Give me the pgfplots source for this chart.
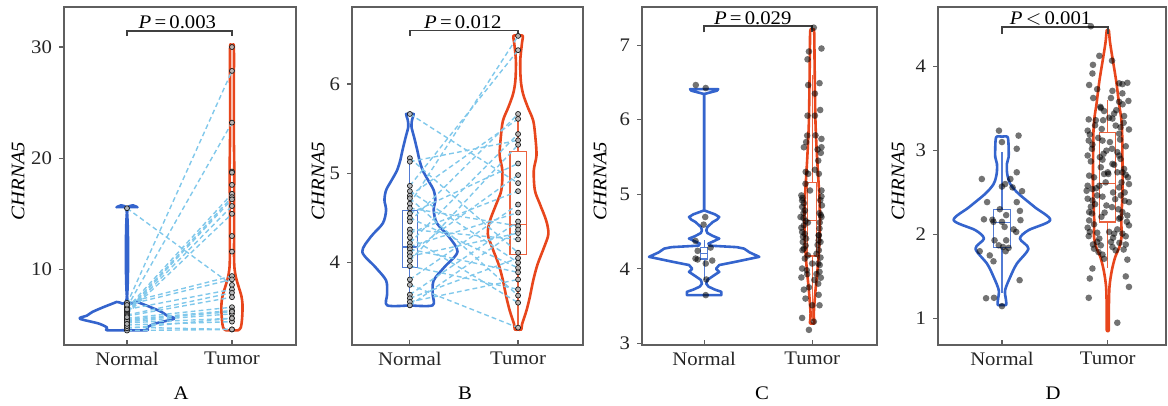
\documentclass[border=0pt]{standalone}
\usepackage{fontspec}
\setmainfont[FakeStretch=1.08]{Liberation Serif}
\usepackage{pgfplots}
\pgfplotsset{compat=1.18}
\usepackage{pgfplotstable}
\usepgfplotslibrary{statistics}

\definecolor{vblue}{RGB}{52,100,205}
\definecolor{vred}{RGB}{232,70,28}
\definecolor{pline}{RGB}{128,200,235}
\definecolor{frame}{RGB}{95,95,95}

% ---------- violin outlines (y, half width) ----------
\pgfplotstableread{
y w
4.53 0
4.53 0.19
4.77 0.19
5.13 0.27
5.57 0.45
5.85 0.38
6.17 0.33
6.62 0.22
7.07 0.10
7.52 0
15.15 0
15.59 0.10
15.59 0
}\vAn
\pgfplotstableread{
y w
4.53 0
4.53 0.06
4.8 0.085
5.43 0.095
6.2 0.1
6.9 0.1
7.6 0.09
8.4 0.065
9.2 0.04
10 0.025
11 0.02
13 0.02
16 0.02
19 0.022
22 0.018
26 0.018
30 0.018
30 0
}\vAt
\pgfplotstableread{
y w
3.52 0
3.52 0.21
3.65 0.21
3.80 0.22
3.95 0.32
4.12 0.44
4.29 0.36
4.44 0.25
4.585 0.22
4.70 0.235
4.81 0.22
4.92 0.17
5.03 0.12
5.14 0.09
5.25 0.07
5.40 0.04
5.52 0.015
5.60 0.02
5.665 0.035
5.665 0
}\vBn
\pgfplotstableread{
y w
3.25 0
3.25 0.03
3.31 0.037
3.46 0.077
3.61 0.108
3.80 0.14
3.98 0.18
4.17 0.24
4.32 0.28
4.47 0.26
4.66 0.20
4.81 0.155
5.03 0.145
5.20 0.17
5.40 0.16
5.59 0.14
5.74 0.09
5.89 0.046
6.04 0.025
6.26 0.02
6.45 0.035
6.54 0.043
6.54 0
}\vBt
\pgfplotstableread{
y w
3.646 0
3.646 0.16
3.69 0.16
3.72 0.10
3.76 0.04
3.80 0.02
3.85 0.03
3.90 0.08
3.958 0.14
4.00 0.11
4.05 0.14
4.09 0.28
4.16 0.51
4.22 0.42
4.27 0.37
4.29 0.30
4.31 0.05
4.338 0.04
4.37 0.09
4.405 0.14
4.44 0.08
4.48 0.03
4.516 0.02
4.56 0.03
4.627 0.08
4.66 0.12
4.694 0.14
4.73 0.10
4.783 0
6.344 0
6.39 0.12
6.41 0.13
6.41 0
}\vCn
\pgfplotstableread{
y w
3.27 0
3.27 0.02
3.4 0.015
3.7 0.03
4.0 0.05
4.3 0.065
4.65 0.072
5.0 0.065
5.5 0.045
6.0 0.03
6.8 0.022
7.19 0.018
7.19 0
}\vCt
\pgfplotstableread{
y w
1.16 0
1.16 0.04
1.22 0.038
1.336 0.03
1.495 0.079
1.65 0.14
1.83 0.25
1.95 0.17
2.05 0.25
2.17 0.456
2.325 0.31
2.485 0.157
2.6 0.079
2.72 0.05
2.84 0.047
2.92 0.063
3.04 0.063
3.12 0.06
3.165 0.05
3.165 0
}\vDn
\pgfplotstableread{
y w
0.86 0
0.86 0.01
1.1 0.01
1.375 0.016
1.57 0.038
1.73 0.07
1.85 0.11
1.97 0.13
2.17 0.128
2.37 0.135
2.64 0.14
2.96 0.138
3.24 0.135
3.40 0.125
3.55 0.107
3.83 0.079
4.15 0.038
4.30 0.02
4.43 0.01
4.43 0
}\vDt

% ---------- paired samples (normal n, tumor t) ----------
\pgfplotstableread{
n t
15.5 8.6
6.9 27.85
6.6 23.2
6.5 16.8
6.3 16.5
6.2 16.3
6.1 15.7
6.0 15.0
7.0 9.4
6.8 9.1
6.4 8.2
5.9 7.9
5.8 7.5
5.6 6.6
5.5 6.3
5.3 6.0
5.2 5.6
5.0 5.3
4.8 4.6
4.5 4.6
4.7 5.6
5.4 6.2
}\pairA
\pgfplotstableread{
t
30
18.8
18.7
17.6
13.0
11.6
}\extraAt
\pgfplotstableread{
n
4.9
5.1
5.7
}\extraAn
\pgfplotstableread{
n t
5.665 4.89
5.17 4.11
5.13 5.37
4.86 6.38
4.80 4.00
4.75 5.61
4.72 3.63
4.66 6.54
4.61 4.41
4.55 5.11
4.50 3.94
4.46 5.665
4.37 4.26
4.33 4.80
4.28 3.55
4.22 5.44
4.18 4.56
4.15 3.89
4.11 4.98
4.07 4.33
4.02 5.32
3.96 3.70
3.81 4.65
3.75 3.27
3.64 4.46
3.60 4.05
3.56 3.81
3.52 4.37
}\pairB

% ---------- jittered points (dx, y) ----------
\pgfplotstableread{
dx y
-0.077 6.465
0.015 6.425
0.01 4.694
-0.005 4.592
-0.08 4.373
0.06 4.284
-0.06 4.24
-0.08 4.137
-0.06 4.124
0.075 4.11
0.015 4.07
0.02 3.856
0.015 3.646
}\pCn
\pgfplotstableread{
dx y
0.015 7.235
0.086 6.955
-0.03 6.915
-0.043 6.81
-0.037 6.465
0.068 6.49
0.025 6.35
0.074 6.13
-0.043 6.054
0.025 6.054
-0.046 5.787
0.031 5.79
0.086 5.742
-0.056 5.70
-0.077 5.63
0.086 5.63
0.08 5.555
0.056 5.45
0.025 5.328
-0.037 5.274
0.062 5.274
-0.062 5.14
0.086 5.05
0.086 4.97
-0.1 4.984
-0.093 4.917
-0.077 4.88
-0.093 4.83
-0.068 4.783
0.068 4.747
0.086 4.694
-0.108 4.694
-0.062 4.64
-0.077 4.583
0.068 4.54
-0.093 4.493
0.062 4.449
-0.056 4.405
-0.087 4.36
0.077 4.36
0.062 4.248
-0.077 4.27
0.077 4.15
-0.068 4.137
0.056 4.07
0 4.07
-0.093 4.003
0.068 3.958
-0.046 3.927
-0.1 3.883
0.056 3.80
-0.077 3.72
-0.062 3.60
0 3.51
0.068 3.51
-0.093 3.34
0.015 3.29
-0.03 3.18
-0.09 4.95
-0.08 4.75
-0.1 4.55
0.08 4.72
0.07 4.62
0.06 4.38
-0.06 4.31
0.05 4.32
-0.04 4.62
-0.08 4.68
0.07 4.05
-0.05 3.98
0.04 3.93
0.02 3.85
-0.03 3.75
0.06 4.45
-0.07 4.47
0.09 4.85
0.075 4.92
-0.085 4.43
0.04 4.2
-0.04 4.18
0.08 3.88
-0.09 4.25
0.06 3.65
-0.06 5.3
0.05 5.6
-0.02 5.05
}\pCt
\pgfplotstableread{
dx y
-0.028 3.236
0.157 3.177
0 3.10
0.14 3.02
0.14 2.74
-0.19 2.66
0.08 2.66
0.03 2.60
0.10 2.56
0 2.57
0.19 2.515
-0.14 2.385
0.14 2.385
0.17 2.28
-0.02 2.30
0.04 2.23
-0.17 2.18
-0.09 2.175
0.175 2.17
-0.08 2.15
0 2.15
0.025 2.09
0.11 2.06
0.135 2.03
-0.07 1.93
0.04 1.93
-0.03 1.87
0.01 1.85
0.063 1.84
-0.21 1.80
0.035 1.80
-0.115 1.75
-0.08 1.68
0.167 1.455
-0.15 1.24
-0.075 1.245
0 1.146
}\pDn
\pgfplotstableread{
dx y
-0.16 4.48
-0.08 4.127
0.04 4.07
-0.14 4.02
-0.145 3.917
-0.176 3.78
0.107 3.80
0.138 3.79
0.185 3.806
0.044 3.71
0.138 3.68
-0.138 3.625
0.03 3.625
0.195 3.59
0.107 3.58
-0.066 3.506
-0.035 3.47
0.06 3.44
0.013 3.39
0.044 3.38
-0.18 3.37
-0.113 3.36
-0.044 3.36
0.154 3.41
0.075 3.296
0.12 3.276
-0.057 3.256
-0.19 3.236
-0.17 3.19
0.107 3.20
0.116 3.13
-0.05 3.118
-0.18 3.118
-0.145 3.07
0.04 3.02
-0.013 2.998
0.09 2.98
0.107 2.94
-0.19 2.94
-0.075 2.92
-0.05 2.89
0.044 2.84
0.06 2.83
-0.066 2.80
0.154 2.78
0 2.74
0.09 2.74
-0.13 2.68
0.17 2.71
-0.176 2.70
-0.035 2.72
0.005 2.72
0.138 2.74
0.2 2.60
-0.19 2.58
-0.145 2.54
0.107 2.56
0.123 2.465
-0.1 2.465
-0.05 2.45
-0.19 2.425
-0.145 2.405
0.2 2.385
-0.013 2.345
0.04 2.325
-0.176 2.266
0.138 2.266
0.185 2.226
0.107 2.188
-0.176 2.167
0.2 2.108
-0.19 2.08
-0.17 2.03
0.013 2.03
0.06 2.01
0.138 2.01
0.17 1.978
-0.08 1.95
-0.1 1.91
0.03 1.91
-0.066 1.87
0.044 1.85
-0.13 1.83
-0.088 1.79
0.075 1.81
-0.035 1.71
0.185 1.70
-0.145 1.594
0.17 1.50
-0.17 1.475
0.2 1.375
-0.18 1.245
0.09 0.948
-0.12 3.30
0.15 3.33
-0.09 3.15
0.17 3.05
-0.16 2.87
0.12 2.90
-0.02 2.62
-0.11 2.55
0.16 2.50
0.07 2.42
-0.16 2.33
0.1 2.30
-0.06 2.21
0.18 2.15
-0.13 2.12
0.09 2.06
-0.18 1.98
0.11 1.90
-0.05 1.76
0.15 1.82
-0.15 2.25
0.19 2.68
-0.2 2.52
0.14 3.55
-0.1 3.73
0.2 3.25
-0.07 3.52
0.08 3.48
-0.15 3.02
0.02 3.10
-0.04 2.96
0.13 2.62
-0.08 2.58
0.05 2.50
-0.12 2.36
0.16 2.40
-0.03 2.26
0.12 2.20
-0.1 2.02
0.05 1.96
-0.14 1.88
0.17 1.88
}\pDt

\pgfplotsset{
  panel/.style={
    scale only axis, anchor=south west, height=169pt, clip=false,
    axis line style={draw=frame, line width=0.6pt},
    xtick={1,2}, xticklabels={Normal,Tumor},
    tick pos=left, xtick align=inside, ytick align=outside,
    major tick length=2.5pt,
    tick style={draw=frame, line width=0.6pt},
    font=\fontsize{9.6}{11}\selectfont,
    tick label style={text=black!85},
    /pgf/number format/assume math mode=true,
    boxplot/draw direction=y,
  },
  vio/.style={line width=1.3pt, smooth, tension=0.5, line join=round},
  viosharp/.style={line width=1.3pt, line join=round},
  pairs/.style={pline, line width=0.7pt, dash pattern=on 2.4pt off 1.6pt},
  ptAB/.style={only marks, mark=*, mark size=1.25pt,
    mark options={fill=gray!55, draw=black!90, line width=0.35pt, fill opacity=0.9}},
  ptCD/.style={only marks, mark=*, mark size=1.65pt,
    mark options={fill=black, draw opacity=0, fill opacity=0.55}},
  bx/.style={line width=0.6pt, solid, mark=none},
  bracket/.style={draw=black!75, line width=0.8pt},
}

\begin{document}
\begin{tikzpicture}
\useasboundingbox (0,0) rectangle (584pt,203pt);

% ================= A =================
\begin{axis}[panel, at={(32pt,30.5pt)}, width=116pt,
  xmin=0.4, xmax=2.61, ymin=3.2, ymax=33.6, ytick={10,20,30}]
\addplot[vblue, vio] table[x expr=1+\thisrow{w}, y=y] {\vAn};
\addplot[vblue, vio] table[x expr=1-\thisrow{w}, y=y] {\vAn};
\addplot[vred, vio] table[x expr=2+\thisrow{w}, y=y] {\vAt};
\addplot[vred, vio] table[x expr=2-\thisrow{w}, y=y] {\vAt};
\addplot[pairs, quiver={u=1, v=\thisrow{t}-\thisrow{n}}] table[x expr=1, y=n] {\pairA};
\addplot[ptAB] table[x expr=1, y=n] {\pairA};
\addplot[ptAB] table[x expr=1, y=n] {\extraAn};
\addplot[ptAB] table[x expr=2, y=t] {\pairA};
\addplot[ptAB] table[x expr=2, y=t] {\extraAt};
\addplot[bracket] coordinates {(1,31.0) (1,31.43) (2,31.43) (2,31.0)};
\node[anchor=south, inner sep=0.8pt] at (axis cs:1.48,31.43) {\textit{P}\,=\,0.003};
\end{axis}

% ================= B =================
\begin{axis}[panel, at={(176pt,30.5pt)}, width=115.5pt,
  xmin=0.465, xmax=2.6, ymin=3.076, ymax=6.864, ytick={4,5,6}]
\addplot[vblue, vio] table[x expr=1+\thisrow{w}, y=y] {\vBn};
\addplot[vblue, vio] table[x expr=1-\thisrow{w}, y=y] {\vBn};
\addplot[vred, vio] table[x expr=2+\thisrow{w}, y=y] {\vBt};
\addplot[vred, vio] table[x expr=2-\thisrow{w}, y=y] {\vBt};
\addplot[vblue!85, bx, boxplot prepared={draw position=1,
  lower whisker=3.52, lower quartile=3.94, median=4.175,
  upper quartile=4.585, upper whisker=5.17, box extend=0.14, whisker extend=0}] coordinates {};
\addplot[vred!85, bx, boxplot prepared={draw position=2,
  lower whisker=3.3, lower quartile=4.09, median=4.425,
  upper quartile=5.245, upper whisker=5.66, box extend=0.15, whisker extend=0}] coordinates {};
\addplot[pairs, quiver={u=1, v=\thisrow{t}-\thisrow{n}}] table[x expr=1, y=n] {\pairB};
\addplot[ptAB] table[x expr=1, y=n] {\pairB};
\addplot[ptAB] table[x expr=2, y=t] {\pairB};
\addplot[bracket] coordinates {(1,6.54) (1,6.60) (2,6.60) (2,6.54)};
\node[anchor=south, inner sep=0.8pt] at (axis cs:1.49,6.60) {\textit{P}\,=\,0.012};
\end{axis}

% ================= C =================
\begin{axis}[panel, at={(321pt,30.5pt)}, width=117.5pt,
  xmin=0.425, xmax=2.6, ymin=2.977, ymax=7.512, ytick={3,4,5,6,7}]
\addplot[ptCD] table[x expr=1+\thisrow{dx}, y=y] {\pCn};
\addplot[ptCD] table[x expr=2+\thisrow{dx}, y=y] {\pCt};
\addplot[vblue, viosharp] table[x expr=1+\thisrow{w}, y=y] {\vCn};
\addplot[vblue, viosharp] table[x expr=1-\thisrow{w}, y=y] {\vCn};
\addplot[vred, vio] table[x expr=2+\thisrow{w}, y=y] {\vCt};
\addplot[vred, vio] table[x expr=2-\thisrow{w}, y=y] {\vCt};
\addplot[vblue!85, bx, boxplot prepared={draw position=1,
  lower whisker=3.85, lower quartile=4.13, median=4.2,
  upper quartile=4.29, upper whisker=4.38, box extend=0.06, whisker extend=0}] coordinates {};
\addplot[vred!85, bx, boxplot prepared={draw position=2,
  lower whisker=3.3, lower quartile=4.17, median=4.65,
  upper quartile=5.16, upper whisker=6.6, box extend=0.085, whisker extend=0}] coordinates {};
\addplot[bracket] coordinates {(1,7.17) (1,7.258) (2,7.258) (2,7.17)};
\node[anchor=south, inner sep=0.5pt] at (axis cs:1.45,7.258) {\textit{P}\,=\,0.029};
\end{axis}

% ================= D =================
\begin{axis}[panel, at={(469pt,30.5pt)}, width=114pt,
  xmin=0.396, xmax=2.55, ymin=0.683, ymax=4.709, ytick={1,2,3,4}]
\addplot[ptCD] table[x expr=1+\thisrow{dx}, y=y] {\pDn};
\addplot[ptCD] table[x expr=2+\thisrow{dx}, y=y] {\pDt};
\addplot[vblue, vio] table[x expr=1+\thisrow{w}, y=y] {\vDn};
\addplot[vblue, vio] table[x expr=1-\thisrow{w}, y=y] {\vDn};
\addplot[vred, vio] table[x expr=2+\thisrow{w}, y=y] {\vDt};
\addplot[vred, vio] table[x expr=2-\thisrow{w}, y=y] {\vDt};
\addplot[vblue!85, bx, boxplot prepared={draw position=1,
  lower whisker=1.30, lower quartile=1.84, median=2.14,
  upper quartile=2.30, upper whisker=2.98, box extend=0.16, whisker extend=0}] coordinates {};
\addplot[vred!85, bx, boxplot prepared={draw position=2,
  lower whisker=1.6, lower quartile=2.147, median=2.61,
  upper quartile=3.21, upper whisker=3.6, box extend=0.15, whisker extend=0}] coordinates {};
\addplot[bracket] coordinates {(1,4.39) (1,4.47) (2,4.47) (2,4.39)};
\node[anchor=south, inner sep=0.5pt] at (axis cs:1.46,4.47) {\textit{P}\,$<$\,0.001};
\end{axis}

% ---------- y labels and panel letters ----------
\begin{scope}[font=\fontsize{9.6}{11}\selectfont]
\node[rotate=90] at (9pt,112.5pt) {\textit{CHRNA5}};
\node[rotate=90] at (159pt,112.5pt) {\textit{CHRNA5}};
\node[rotate=90] at (300pt,112.5pt) {\textit{CHRNA5}};
\node[rotate=90] at (449pt,112.5pt) {\textit{CHRNA5}};
\node at (90.5pt,6.5pt) {A};
\node at (232.5pt,6.5pt) {B};
\node at (381pt,6.5pt) {C};
\node at (526.5pt,6.5pt) {D};
\end{scope}
\end{tikzpicture}
\end{document}
